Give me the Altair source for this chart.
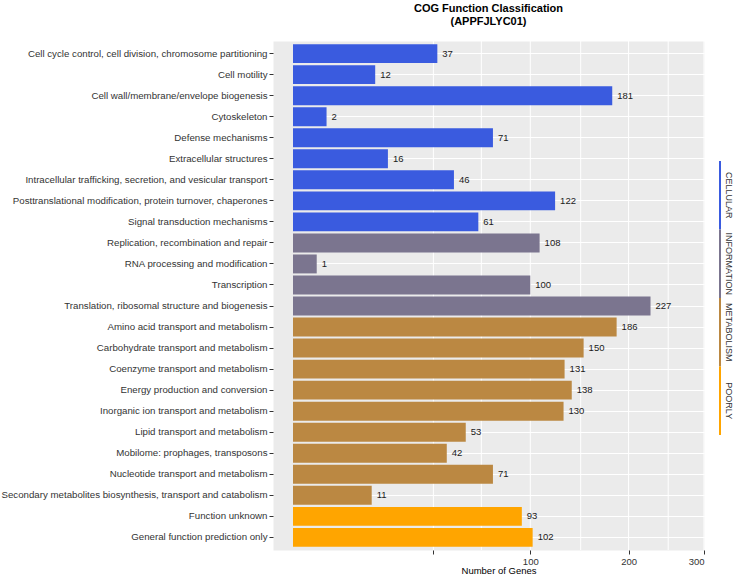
import altair as alt
import pandas as pd

categories = [
    "Cell cycle control, cell division, chromosome partitioning",
    "Cell motility",
    "Cell wall/membrane/envelope biogenesis",
    "Cytoskeleton",
    "Defense mechanisms",
    "Extracellular structures",
    "Intracellular trafficking, secretion, and vesicular transport",
    "Posttranslational modification, protein turnover, chaperones",
    "Signal transduction mechanisms",
    "Replication, recombination and repair",
    "RNA processing and modification",
    "Transcription",
    "Translation, ribosomal structure and biogenesis",
    "Amino acid transport and metabolism",
    "Carbohydrate transport and metabolism",
    "Coenzyme transport and metabolism",
    "Energy production and conversion",
    "Inorganic ion transport and metabolism",
    "Lipid transport and metabolism",
    "Mobilome: prophages, transposons",
    "Nucleotide transport and metabolism",
    "Secondary metabolites biosynthesis, transport and catabolism",
    "Function unknown",
    "General function prediction only",
]
counts = [37, 12, 181, 2, 71, 16, 46, 122, 61,
          108, 1, 100, 227,
          186, 150, 131, 138, 130, 53, 42, 71, 11,
          93, 102]
groups = (["CELLULAR"] * 9 + ["INFORMATION"] * 4 +
          ["METABOLISM"] * 9 + ["POORLY"] * 2)

group_names = ["CELLULAR", "INFORMATION", "METABOLISM", "POORLY"]
group_colors = ["#3A5BDF", "#7B758F", "#BB8842", "#FFA500"]

x_ticks = [35, 100, 200, 300]
x_grid = [35, 63, 100, 147, 200, 250, 300]

FONT = "Liberation Sans"
W, H = 431, 509

df = pd.DataFrame({"category": categories, "count": counts, "group": groups})
grid_df = pd.DataFrame({"count": x_grid})
legend_df = pd.DataFrame({"group": group_names})

xscale = alt.Scale(type="sqrt", domain=[0, 300], range=[20, W], nice=False)
xaxis = alt.Axis(values=x_ticks, labelExpr="datum.value == 35 ? '' : datum.label",
                 grid=False, domain=False, tickSize=4, tickColor="#333333",
                 labelColor="#333333", labelFontSize=9.5, labelFont=FONT,
                 labelPadding=2, title="Number of Genes", titleFont=FONT,
                 titleFontSize=9.5, titleFontWeight="normal", titleColor="black",
                 titlePadding=0, format="d")
yscale = alt.Scale(domain=categories, paddingInner=0.1, paddingOuter=0.15)
yaxis = alt.Axis(title=None, labelFontSize=9.7, labelFont=FONT, labelColor="#333333",
                 tickSize=4, tickColor="#333333", domain=False, grid=True,
                 gridColor="white", gridWidth=1, labelPadding=2, labelLimit=400)

X = alt.X("count:Q", scale=xscale, axis=xaxis)
Y = alt.Y("category:N", sort=categories, scale=yscale, axis=yaxis)

grid = alt.Chart(grid_df).mark_rule(color="white", strokeWidth=1).encode(x=X)

bars = alt.Chart(df).mark_bar().encode(
    x=X, y=Y,
    color=alt.Color("group:N", scale=alt.Scale(domain=group_names, range=group_colors),
                    legend=None),
)
labels = alt.Chart(df).mark_text(align="left", baseline="middle", dx=5, fontSize=9.5,
                                 font=FONT, color="#1a1a1a").encode(
    x=X, y=Y, text="count:Q")

main = alt.layer(grid, bars, labels).properties(
    width=W, height=H,
    view=alt.ViewBackground(fill="#EBEBEB", stroke="transparent"),
    title=alt.Title(["COG Function Classification", "(APPFJLYC01)"], fontSize=11,
                    fontWeight="bold", font=FONT, color="black", anchor="middle",
                    lineHeight=12.5, offset=14),
)

legY = alt.Y("group:N", sort=group_names,
             scale=alt.Scale(domain=group_names, paddingInner=0, paddingOuter=0,
                             range=[120, 394]),
             axis=None)
leg_line = alt.Chart(legend_df).mark_rect().encode(
    y=legY,
    color=alt.Color("group:N", scale=alt.Scale(domain=group_names, range=group_colors),
                    legend=None),
)
leg_text = alt.Chart(legend_df).mark_text(angle=90, align="center", baseline="middle",
                                          dy=-9, fontSize=9, font=FONT,
                                          color="#333333").encode(
    y=legY, text="group:N")
legend = alt.layer(leg_line, leg_text).properties(
    width=2, height=H, view=alt.ViewBackground(stroke="transparent"))

chart = alt.hconcat(main, legend, spacing=13).configure_view(stroke="transparent").properties(
    padding={"left": 0, "top": 2, "right": 0, "bottom": 0},
    background="white",
)

chart.save("out.html", embed_options={"renderer": "svg", "actions": False})
